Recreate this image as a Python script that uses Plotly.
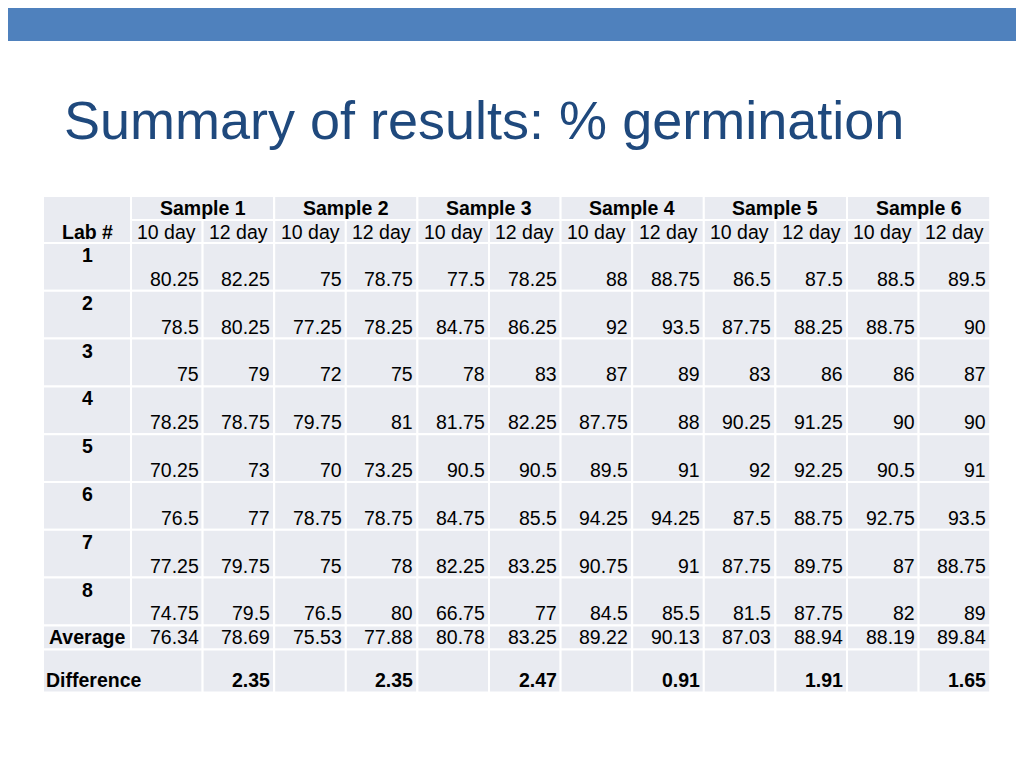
import plotly.graph_objects as go

samples = ["Sample 1", "Sample 2", "Sample 3", "Sample 4", "Sample 5", "Sample 6"]
days = ["10 day", "12 day"]
labs = ["1", "2", "3", "4", "5", "6", "7", "8"]
values = [
    ["80.25", "82.25", "75", "78.75", "77.5", "78.25", "88", "88.75", "86.5", "87.5", "88.5", "89.5"],
    ["78.5", "80.25", "77.25", "78.25", "84.75", "86.25", "92", "93.5", "87.75", "88.25", "88.75", "90"],
    ["75", "79", "72", "75", "78", "83", "87", "89", "83", "86", "86", "87"],
    ["78.25", "78.75", "79.75", "81", "81.75", "82.25", "87.75", "88", "90.25", "91.25", "90", "90"],
    ["70.25", "73", "70", "73.25", "90.5", "90.5", "89.5", "91", "92", "92.25", "90.5", "91"],
    ["76.5", "77", "78.75", "78.75", "84.75", "85.5", "94.25", "94.25", "87.5", "88.75", "92.75", "93.5"],
    ["77.25", "79.75", "75", "78", "82.25", "83.25", "90.75", "91", "87.75", "89.75", "87", "88.75"],
    ["74.75", "79.5", "76.5", "80", "66.75", "77", "84.5", "85.5", "81.5", "87.75", "82", "89"],
]
averages = ["76.34", "78.69", "75.53", "77.88", "80.78", "83.25", "89.22", "90.13", "87.03", "88.94", "88.19", "89.84"]
differences = ["2.35", "2.35", "2.47", "0.91", "1.91", "1.65"]

FONT = "Liberation Sans, Arial, sans-serif"
FILL = "#e9ebf1"
FS = 19.5

x0, xl, cw = 43, 131, 71.6
xe = [xl + i * cw for i in range(13)]
yh0, yh1, yh2 = 196, 220, 243
rh = 47.8
yrows = [yh2 + i * rh for i in range(9)]
yavg = yrows[8]
yavg2 = yavg + 24
ydiff2 = yavg2 + 43

shapes, ann = [], []

def cell(a, b, c, d):
    shapes.append(dict(type="rect", x0=a, x1=b, y0=c, y1=d, fillcolor=FILL,
                       line=dict(color="white", width=2), layer="below"))

def txt(x, y, s, anchor="right", bold=False):
    ann.append(dict(x=x, y=y, text=f"<b>{s}</b>" if bold else s, showarrow=False,
                    xanchor=anchor, yanchor="middle", font=dict(family=FONT, size=FS, color="black")))

cell(x0, xl, yh0, yh2)
txt((x0 + xl) / 2, (yh1 + yh2) / 2, "Lab #", "center", True)
for i, s in enumerate(samples):
    cell(xe[2 * i], xe[2 * i + 2], yh0, yh1)
    txt((xe[2 * i] + xe[2 * i + 2]) / 2, (yh0 + yh1) / 2, s, "center", True)
for j in range(12):
    cell(xe[j], xe[j + 1], yh1, yh2)
    txt((xe[j] + xe[j + 1]) / 2, (yh1 + yh2) / 2, days[j % 2], "center")
for r, lab in enumerate(labs):
    a, b = yrows[r], yrows[r + 1]
    cell(x0, xl, a, b)
    txt((x0 + xl) / 2, a + 12, lab, "center", True)
    for j in range(12):
        cell(xe[j], xe[j + 1], a, b)
        txt(xe[j + 1] - 2, b - 12, values[r][j])
cell(x0, xl, yavg, yavg2)
txt((x0 + xl) / 2, (yavg + yavg2) / 2, "Average", "center", True)
for j in range(12):
    cell(xe[j], xe[j + 1], yavg, yavg2)
    txt(xe[j + 1] - 2, (yavg + yavg2) / 2, averages[j])
cell(x0, xe[1], yavg2, ydiff2)
txt(x0 + 1, ydiff2 - 12, "Difference", "left", True)
for i, d in enumerate(differences):
    if i > 0:
        cell(xe[2 * i], xe[2 * i + 1], yavg2, ydiff2)
    cell(xe[2 * i + 1], xe[2 * i + 2], yavg2, ydiff2)
    txt(xe[2 * i + 2] - 2, ydiff2 - 12, d, bold=True)

shapes.append(dict(type="rect", x0=0, x1=1040, y0=0, y1=41, fillcolor="#4f81bd", line=dict(width=0), layer="below"))
ann.append(dict(x=62, y=120, text="Summary of results: % germination", showarrow=False, xanchor="left",
                yanchor="middle", font=dict(family=FONT, size=54, color="#1f497d")))

fig = go.Figure()
fig.add_trace(go.Scatter(x=[8, 1032], y=[8, 776], mode="markers", marker=dict(opacity=0), hoverinfo="skip"))
fig.update_layout(width=1024, height=768, margin=dict(l=0, r=0, t=0, b=0), paper_bgcolor="white",
                  plot_bgcolor="white", showlegend=False, shapes=shapes, annotations=ann,
                  xaxis=dict(range=[8, 1032], visible=False, fixedrange=True),
                  yaxis=dict(range=[776, 8], visible=False, fixedrange=True))
fig.write_html("out.html", config={"displayModeBar": False})
